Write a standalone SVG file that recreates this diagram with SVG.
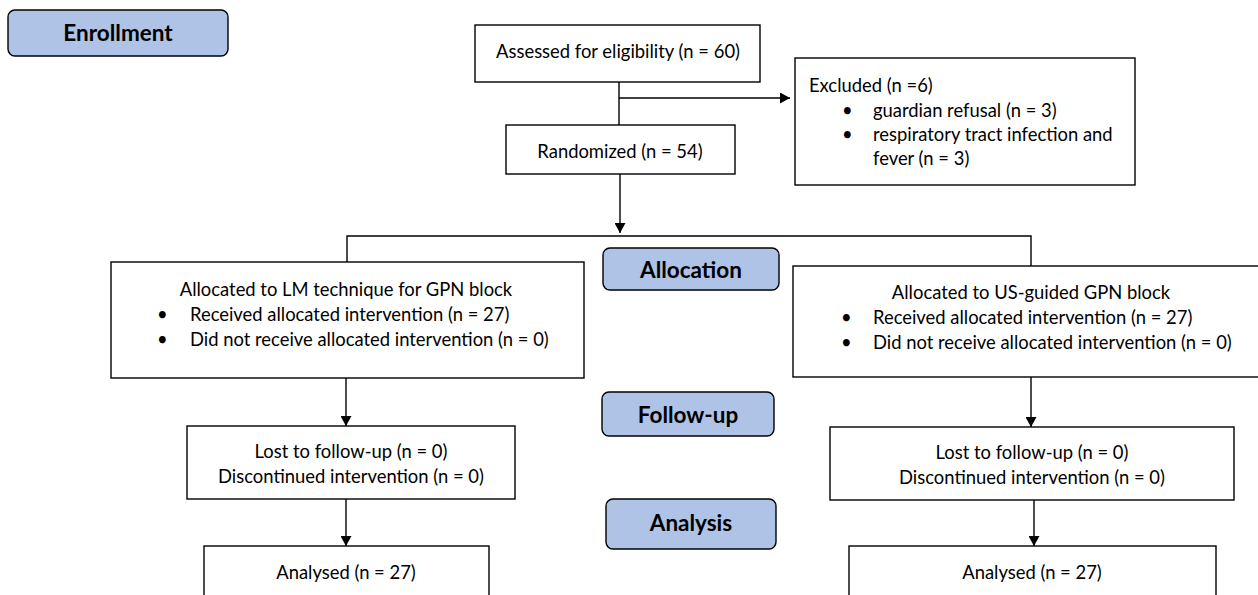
<svg xmlns="http://www.w3.org/2000/svg" width="1258" height="595" viewBox="0 0 1258 595">
<defs>
<marker id="ah" markerWidth="10" markerHeight="11" refX="10" refY="5.5" orient="auto" markerUnits="userSpaceOnUse">
<path d="M0,0 L10,5.5 L0,11 Z" fill="#000"/>
</marker>
<style>
.box{fill:#fff;stroke:#000;stroke-width:1.4}
.stage{fill:#aec3e5;stroke:#000;stroke-width:1.4}
.t{font-family:Lato,"Open Sans",sans-serif;font-size:18.4px;fill:#000}
.c{text-anchor:middle}
.b{font-family:Lato,"Open Sans",sans-serif;font-size:22.5px;font-weight:bold;fill:#000;text-anchor:middle}
.ln{fill:none;stroke:#000;stroke-width:1.4}
</style>
</defs>
<rect width="1258" height="595" fill="#fff"/>
<g id="connectors">
<line class="ln" x1="619" y1="82" x2="619" y2="125"/>
<line class="ln" x1="619" y1="98" x2="790" y2="98" marker-end="url(#ah)"/>
<line class="ln" x1="620" y1="174" x2="620" y2="233" marker-end="url(#ah)"/>
<polyline class="ln" points="347,273 347,236 1031,236 1031,277"/>
<line class="ln" x1="347" y1="262" x2="347" y2="273" marker-end="url(#ah)"/>
<line class="ln" x1="1031" y1="266" x2="1031" y2="277" marker-end="url(#ah)"/>
<line class="ln" x1="346" y1="373" x2="346" y2="426" marker-end="url(#ah)"/>
<line class="ln" x1="1031" y1="373" x2="1031" y2="427" marker-end="url(#ah)"/>
<line class="ln" x1="346" y1="496" x2="346" y2="546" marker-end="url(#ah)"/>
<line class="ln" x1="1034" y1="497" x2="1034" y2="546" marker-end="url(#ah)"/>
</g>
<g id="enrollment"><rect class="stage" x="8" y="10" width="220" height="46" rx="7"/><text class="b" x="118" y="41">Enrollment</text></g>
<g id="assessed"><rect class="box" x="475" y="25" width="285" height="57"/><text class="t c" x="618" y="58">Assessed for eligibility (n = 60)</text></g>
<g id="excluded"><rect class="box" x="795" y="58" width="340" height="127"/>
<text class="t" x="809" y="92">Excluded (n =6)</text>
<text class="t" x="842" y="117">•</text><text class="t" x="873" y="117">guardian refusal (n = 3)</text>
<text class="t" x="842" y="141">•</text><text class="t" x="873" y="141">respiratory tract infection and</text>
<text class="t" x="873" y="165">fever (n = 3)</text>
</g>
<g id="randomized"><rect class="box" x="506" y="125" width="229" height="49"/><text class="t c" x="620" y="158">Randomized (n = 54)</text></g>
<g id="allocation"><rect class="stage" x="603" y="248" width="176" height="42" rx="7"/><text class="b" x="691" y="278">Allocation</text></g>
<g id="lm"><rect class="box" x="111" y="262" width="473" height="116"/>
<text class="t c" x="346" y="296">Allocated to LM technique for GPN block</text>
<text class="t" x="157" y="321">•</text><text class="t" x="190" y="321">Received allocated intervention (n = 27)</text>
<text class="t" x="157" y="346">•</text><text class="t" x="190" y="346">Did not receive allocated intervention (n = 0)</text>
</g>
<g id="us"><rect class="box" x="793" y="266" width="470" height="111"/>
<text class="t c" x="1031" y="299">Allocated to US-guided GPN block</text>
<text class="t" x="841" y="324">•</text><text class="t" x="873" y="324">Received allocated intervention (n = 27)</text>
<text class="t" x="841" y="349">•</text><text class="t" x="873" y="349">Did not receive allocated intervention (n = 0)</text>
</g>
<g id="followup"><rect class="stage" x="602" y="392" width="172" height="44" rx="7"/><text class="b" x="688" y="423">Follow-up</text></g>
<g id="lm-follow"><rect class="box" x="187" y="426" width="328" height="73"/>
<text class="t c" x="351" y="458">Lost to follow-up (n = 0)</text>
<text class="t c" x="351" y="483">Discontinued intervention (n = 0)</text>
</g>
<g id="us-follow"><rect class="box" x="830" y="427" width="404" height="73"/>
<text class="t c" x="1032" y="459">Lost to follow-up (n = 0)</text>
<text class="t c" x="1032" y="484">Discontinued intervention (n = 0)</text>
</g>
<g id="analysis"><rect class="stage" x="606" y="499" width="170" height="50" rx="7"/><text class="b" x="691" y="531">Analysis</text></g>
<g id="lm-analysed"><rect class="box" x="204" y="546" width="285" height="60"/><text class="t c" x="346" y="579">Analysed (n = 27)</text></g>
<g id="us-analysed"><rect class="box" x="849" y="546" width="367" height="60"/><text class="t c" x="1032" y="579">Analysed (n = 27)</text></g>
</svg>
